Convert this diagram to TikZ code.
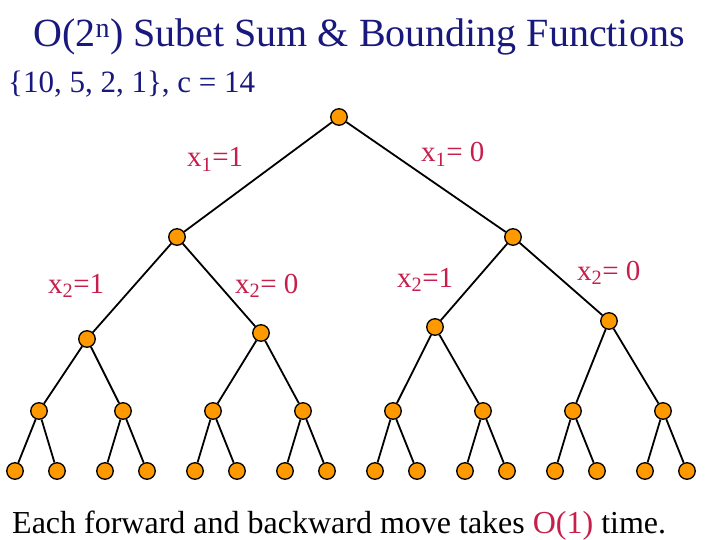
\documentclass[tikz,border=0pt]{standalone}
\usepackage{fontspec}
\setmainfont{Liberation Serif}
\definecolor{navy}{RGB}{25,25,125}
\definecolor{crimson}{RGB}{200,30,75}
\definecolor{nodeorange}{RGB}{255,153,0}

\begin{document}
\begin{tikzpicture}[x=1pt,y=-1pt,
  vert/.style={circle,draw=black,fill=nodeorange,line width=1.3pt,minimum size=16.5pt,inner sep=0pt},
  lbl/.style={text=crimson,font=\fontsize{29}{29}\selectfont,anchor=base west,inner sep=0pt}]
\useasboundingbox[fill=white] (0,0) rectangle (720,540);

\node[text=navy,font=\fontsize{40}{40}\selectfont,anchor=base,inner sep=0pt] (title) at (359,46.5) {O(2\textsuperscript{n}) Subet Sum \& Bounding Functions};
\node[text=navy,font=\fontsize{31}{31}\selectfont,anchor=base west,inner sep=0pt] (set) at (8,93) {\{10, 5, 2, 1\}, c = 14};

\node[vert] (R) at (339,117) {};

\node[vert] (A1) at (177,237) {};
\node[vert] (A2) at (513,237) {};

\node[vert] (B1) at (87,339) {};
\node[vert] (B2) at (261,333) {};
\node[vert] (B3) at (435,327) {};
\node[vert] (B4) at (609,321) {};

\node[vert] (C1) at (39,411) {};
\node[vert] (C2) at (123,411) {};
\node[vert] (C3) at (213,411) {};
\node[vert] (C4) at (303,411) {};
\node[vert] (C5) at (393,411) {};
\node[vert] (C6) at (483,411) {};
\node[vert] (C7) at (573,411) {};
\node[vert] (C8) at (663,411) {};

\node[vert] (D1) at (15,471) {};
\node[vert] (D2) at (57,471) {};
\node[vert] (D3) at (105,471) {};
\node[vert] (D4) at (147,471) {};
\node[vert] (D5) at (195,471) {};
\node[vert] (D6) at (237,471) {};
\node[vert] (D7) at (285,471) {};
\node[vert] (D8) at (327,471) {};
\node[vert] (D9) at (375,471) {};
\node[vert] (D10) at (417,471) {};
\node[vert] (D11) at (465,471) {};
\node[vert] (D12) at (507,471) {};
\node[vert] (D13) at (555,471) {};
\node[vert] (D14) at (597,471) {};
\node[vert] (D15) at (645,471) {};
\node[vert] (D16) at (687,471) {};


\path[line width=1.8pt] (R) edge [] node[]{} (A1);
\path[line width=1.8pt] (R) edge [] node[]{} (A2);

\path[line width=1.8pt] (A1) edge [] node[]{} (B1);
\path[line width=1.8pt] (A1) edge [] node[]{} (B2);
\path[line width=1.8pt] (A2) edge [] node[]{} (B3);
\path[line width=1.8pt] (A2) edge [] node[]{} (B4);

\path[line width=1.8pt] (B1) edge [] node[]{} (C1);
\path[line width=1.8pt] (B1) edge [] node[]{} (C2);
\path[line width=1.8pt] (B2) edge [] node[]{} (C3);
\path[line width=1.8pt] (B2) edge [] node[]{} (C4);
\path[line width=1.8pt] (B3) edge [] node[]{} (C5);
\path[line width=1.8pt] (B3) edge [] node[]{} (C6);
\path[line width=1.8pt] (B4) edge [] node[]{} (C7);
\path[line width=1.8pt] (B4) edge [] node[]{} (C8);

\path[line width=1.8pt] (C1) edge [] node[]{} (D1);
\path[line width=1.8pt] (C1) edge [] node[]{} (D2);
\path[line width=1.8pt] (C2) edge [] node[]{} (D3);
\path[line width=1.8pt] (C2) edge [] node[]{} (D4);
\path[line width=1.8pt] (C3) edge [] node[]{} (D5);
\path[line width=1.8pt] (C3) edge [] node[]{} (D6);
\path[line width=1.8pt] (C4) edge [] node[]{} (D7);
\path[line width=1.8pt] (C4) edge [] node[]{} (D8);
\path[line width=1.8pt] (C5) edge [] node[]{} (D9);
\path[line width=1.8pt] (C5) edge [] node[]{} (D10);
\path[line width=1.8pt] (C6) edge [] node[]{} (D11);
\path[line width=1.8pt] (C6) edge [] node[]{} (D12);
\path[line width=1.8pt] (C7) edge [] node[]{} (D13);
\path[line width=1.8pt] (C7) edge [] node[]{} (D14);
\path[line width=1.8pt] (C8) edge [] node[]{} (D15);
\path[line width=1.8pt] (C8) edge [] node[]{} (D16);

\node[lbl] (x1a) at (187,167) {x\textsubscript{1}=1};
\node[lbl] (x1b) at (421,162) {x\textsubscript{1}= 0};
\node[lbl] (x2a) at (48,293) {x\textsubscript{2}=1};
\node[lbl] (x2b) at (235,293) {x\textsubscript{2}= 0};
\node[lbl] (x2c) at (397,287) {x\textsubscript{2}=1};
\node[lbl] (x2d) at (577,280) {x\textsubscript{2}= 0};

\node[font=\fontsize{32}{32}\selectfont,anchor=base west,inner sep=0pt] (note) at (12,533) {Each forward and backward move takes \textcolor{crimson}{O(1)} time.};
\end{tikzpicture}
\end{document}
